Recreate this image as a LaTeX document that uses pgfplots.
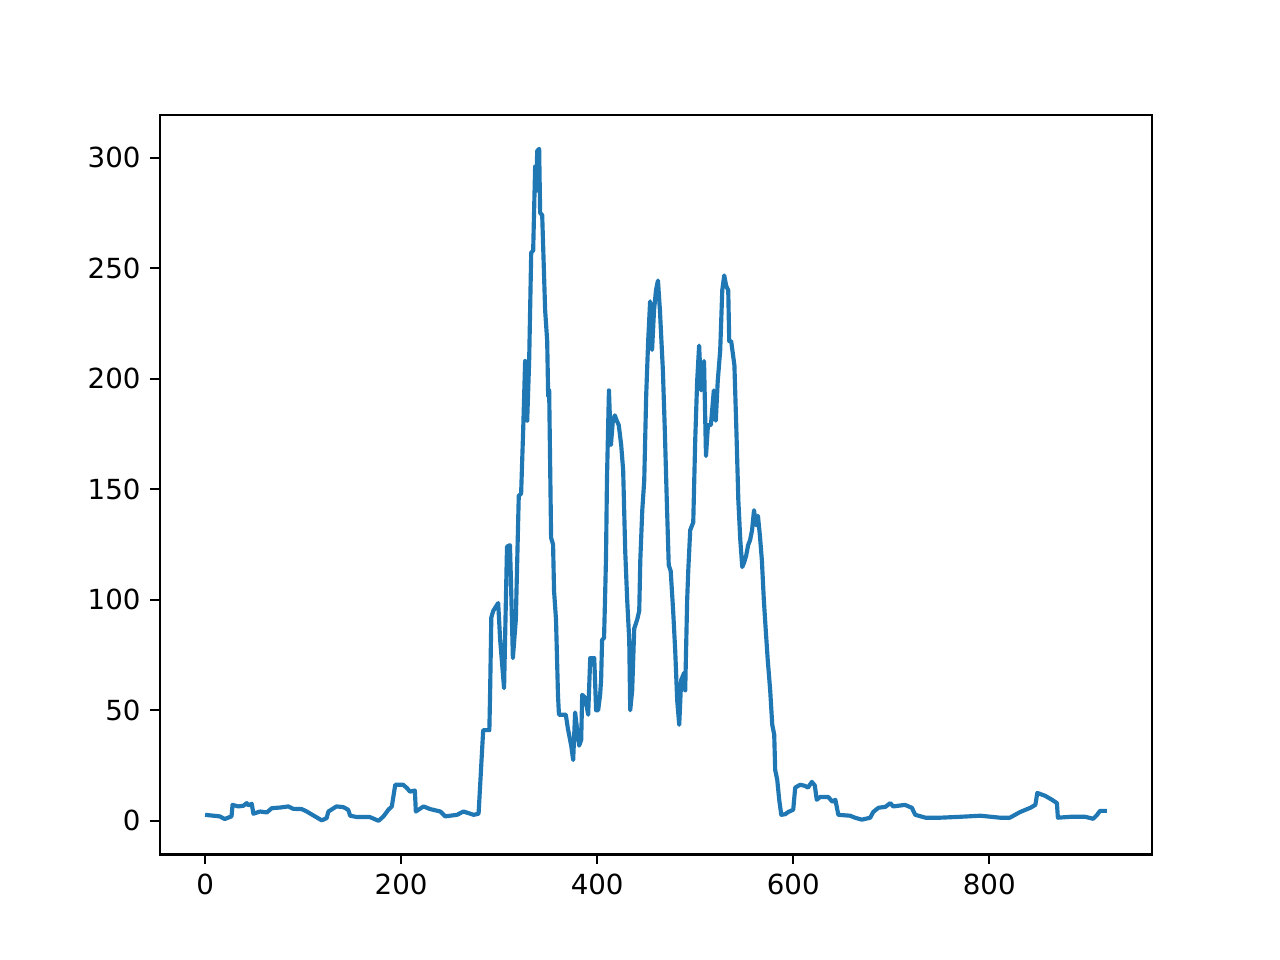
\documentclass[border=0pt]{standalone}
\usepackage{fontspec}
\setmainfont{DejaVu Sans}
\usepackage{pgfplots}
\pgfplotsset{compat=1.18}
\definecolor{mplblue}{HTML}{1F77B4}
\begin{document}
\begin{tikzpicture}
\fill[white] (0,0) rectangle (6.4in,4.8in);
\path[use as bounding box] (0,0) rectangle (6.4in,4.8in);
\begin{axis}[
  at={(0.8in,0.528in)}, anchor=south west,
  scale only axis, width=4.96in, height=3.696in,
  xmin=-46, xmax=966, ymin=-15.2, ymax=319.2,
  xtick={0,200,400,600,800}, ytick={0,50,100,150,200,250,300},
  tick align=outside, xtick pos=bottom, ytick pos=left,
  major tick length=3.5pt,
  every tick/.style={black, line width=0.8pt},
  axis line style={line width=0.8pt},
  tick label style={font=\fontsize{10}{12}\selectfont},
  /pgf/number format/assume math mode=true,
  scaled ticks=false,
  clip=false,
]
\addplot[mplblue, line width=1.5pt, line join=round] coordinates {
(0,2.7) (15,2) (20,0.8) (27,2) (28,7.2) (34,6.5) (39,6.8) (42.5,8) (44,7) (47.6,7.7) (49.3,3.2)
(56,4.2) (63,3.8) (68,5.7) (76.5,6) (85,6.5) (90,5.4) (98.6,5.3) (103.7,4.2) (119,0.2) (124,1.2)
(125.8,4.2) (134,6.5) (141,6.2) (146,5) (148,2.3) (154.8,1.7) (168,1.7) (177,0) (182,2) (187,5)
(190.5,6.5) (194,16.3) (202,16.3) (206,14.8) (209,13.2) (214,13.7) (215,4.2) (222.8,6.5) (229.6,5.3)
(240,4.2) (245,2) (257,2.7) (263.6,4.2) (274,2.7) (279,3.2) (280.6,16)
(283.7,41) (290,41) (290.8,59) (292,92) (294,95) (299,98.5) (301,82) (305,60) (308,124) (311,124.7)
(312,109) (314,73.6) (317,91) (320,147) (322.4,148) (324.5,176.7) (326.5,208) (328.6,181) (330.6,208)
(332.7,257) (334.7,258) (336.7,296) (337.8,285) (338.8,303) (340.8,304) (341.8,275) (343.9,274)
(346.9,231) (349,217) (350,192) (351,195) (353,128) (355,125) (356,104) (358,91) (360,57) (361,48)
(368,48) (370,42) (373.5,34) (375.5,27.5) (377.5,49) (379.6,41) (381.6,34) (383.7,36.6) (384.7,57)
(387.8,55.6) (390.8,48) (392.9,73.6) (397,73.6) (398.9,50) (401,50) (403,57) (404,63.7) (405,81.8)
(407,82.7) (408,100) (409,119) (410,155) (412,194.7) (414,170) (416,181) (418,183.4) (420,181)
(422,179) (424.5,170) (426.5,158.6) (428.6,122) (430.6,100) (432.7,81.8) (433.7,50) (435.7,59)
(437.8,87) (440.8,91) (442.9,95) (444,118) (446,140.5) (448,154) (450,192.5) (452,217) (454,235)
(456,213) (458,231) (460,240) (462,244.4) (464,231) (467,204) (469,176.7) (471,145) (473,115.7)
(475,113) (477.5,95) (479.6,77) (481.6,54.7) (483.7,43.4) (485.7,63.7) (488.8,67) (489.8,59)
(491.8,100) (492.9,113) (494.9,131.5) (498,135) (500,172) (502,199) (504,215) (506,194.7) (509,208)
(511,165) (513,179) (516,179) (519,194.7) (521,181) (523,199) (525.5,212.8) (527.6,240) (529.6,246.7)
(531.6,242) (533.7,240) (534.7,217) (536.7,217) (540,206) (542,176.7) (544,145) (546,127) (548,114.8)
(550,117) (552,120) (554,124.7) (556,127) (558,131.5) (560,140.5) (562,133.7) (564,138) (566,129)
(568,118) (570,100) (572,86) (574,72.7) (576.5,59) (578.6,43.4) (580.6,39) (581.6,23) (583.7,18.5)
(585.7,9.5) (587.8,2.7) (592,3) (595,4) (600,5) (602,15) (607,16.3) (612,15.8) (615,15) (619,17.6)
(622,16) (624,9.5) (627.6,10.8) (635.7,10.8) (640,8.6) (643,9.5) (646,2.7) (658,2.3) (663,1.4)
(670,0.5) (678.6,1.4) (681.6,4) (687,5.9) (694,6.3) (699,8) (702,6.5) (714,7.2) (721,5.9) (724.5,2.7)
(735,1.4) (750,1.4) (770,1.8) (791,2.3) (811,1.4) (821,1.4) (831.6,4) (842,5.9) (847,7.2) (849,12.6)
(857,11.3) (864,9.5) (869,8) (870,1.4) (882.6,1.8) (898,1.8) (906,0.9) (910,2.7) (913,4.5) (920,4.5)
};
\end{axis}
\end{tikzpicture}
\end{document}
